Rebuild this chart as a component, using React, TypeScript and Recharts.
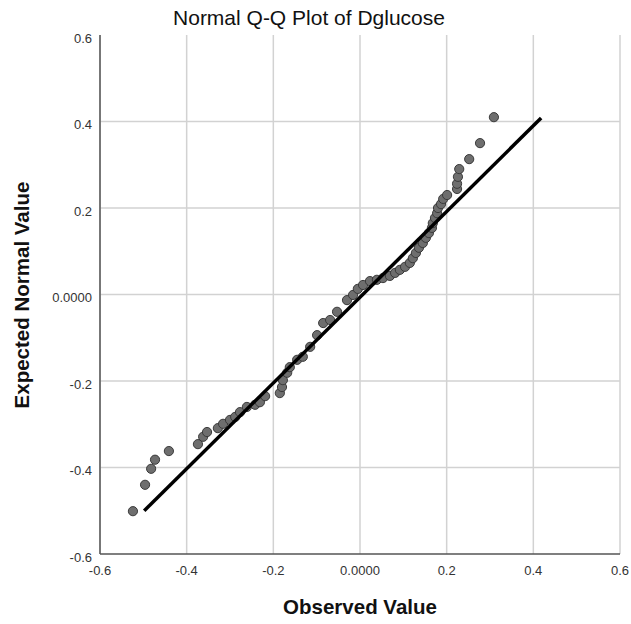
import { ScatterChart, Scatter, XAxis, YAxis, CartesianGrid, ReferenceLine } from 'recharts';

const observed = [
  -0.524, -0.496, -0.482, -0.473, -0.441, -0.374, -0.362, -0.353, -0.328, -0.316,
  -0.300, -0.288, -0.277, -0.261, -0.242, -0.231, -0.219, -0.185, -0.180, -0.178,
  -0.168, -0.162, -0.145, -0.132, -0.115, -0.099, -0.085, -0.069, -0.053, -0.030,
  -0.016, -0.005, 0.007, 0.023, 0.039, 0.053, 0.069, 0.081, 0.092, 0.104,
  0.115, 0.122, 0.129, 0.136, 0.145, 0.152, 0.159, 0.166, 0.168, 0.173,
  0.178, 0.180, 0.187, 0.192, 0.201, 0.224, 0.224, 0.226, 0.229, 0.252,
  0.277, 0.309,
];
const expected = [
  -0.501, -0.440, -0.403, -0.382, -0.362, -0.346, -0.329, -0.318, -0.309, -0.299,
  -0.290, -0.283, -0.272, -0.260, -0.255, -0.249, -0.235, -0.228, -0.214, -0.198,
  -0.181, -0.168, -0.151, -0.144, -0.121, -0.094, -0.066, -0.059, -0.040, -0.013,
  -0.001, 0.013, 0.022, 0.031, 0.034, 0.038, 0.043, 0.050, 0.057, 0.064,
  0.073, 0.084, 0.096, 0.108, 0.119, 0.131, 0.142, 0.154, 0.165, 0.177,
  0.188, 0.200, 0.209, 0.221, 0.230, 0.244, 0.256, 0.272, 0.290, 0.313,
  0.350, 0.410,
];

// reference line ends
const lineX = [-0.498, 0.418];
const lineY = [-0.5, 0.408];

const ticks = [-0.6, -0.4, -0.2, 0, 0.2, 0.4, 0.6];
const innerY = [-0.4, -0.2, 0, 0.2, 0.4];

const points = observed.map((x, i) => ({ x, y: expected[i] }));
const linePts = lineX.map((x, i) => ({ x, y: lineY[i] }));

const fmt = (v: number) => (v === 0 ? '0.0000' : String(v));
const FONT = 'Liberation Sans, Arial, sans-serif';

const Dot = (props: any) => {
  const { cx, cy } = props;
  return <circle cx={cx} cy={cy} r={4.6} fill="#6e6e6e" stroke="#3a3a3a" strokeWidth={1} />;
};

export default function App() {
  return (
    <div style={{ position: 'absolute', left: 0, top: 0, width: 631, height: 624, background: '#fff', fontFamily: FONT }}>
      <ScatterChart width={631} height={624} margin={{ top: 35, right: 11, bottom: 0, left: 0 }}>
        <CartesianGrid horizontal={false} stroke="#d2d2d2" strokeWidth={1.5} />
        {innerY.map((v) => (
          <ReferenceLine key={v} y={v} stroke="#d2d2d2" strokeWidth={1.5} />
        ))}
        <XAxis
          type="number"
          dataKey="x"
          domain={[-0.6, 0.6]}
          ticks={ticks}
          tickFormatter={fmt}
          height={70}
          tickLine={false}
          axisLine={{ stroke: '#555', strokeWidth: 1.5 }}
          tick={{ fill: '#333', fontSize: 13, fontFamily: FONT, dy: 4 }}
        />
        <YAxis
          type="number"
          dataKey="y"
          domain={[-0.6, 0.6]}
          ticks={ticks}
          tickFormatter={fmt}
          width={100}
          tickLine={false}
          axisLine={{ stroke: '#555', strokeWidth: 1.5 }}
          tick={{ fill: '#333', fontSize: 13, fontFamily: FONT, dy: 3 }}
        />
        <Scatter data={points} shape={<Dot />} isAnimationActive={false} />
        <Scatter
          data={linePts}
          line={{ stroke: '#000', strokeWidth: 3.5 }}
          shape={() => <g />}
          isAnimationActive={false}
        />
      </ScatterChart>
      <div style={{ position: 'absolute', left: 0, width: 618, top: 6, textAlign: 'center', fontSize: 21, color: '#111', whiteSpace: 'nowrap' }}>
        Normal Q-Q Plot of Dglucose
      </div>
      <div style={{ position: 'absolute', left: 100, width: 520, top: 595, textAlign: 'center', fontSize: 20.5, fontWeight: 'bold', color: '#111', whiteSpace: 'nowrap' }}>
        Observed Value
      </div>
      <div
        style={{
          position: 'absolute', left: 22, top: 295, width: 300, marginLeft: -150, marginTop: -12,
          textAlign: 'center', fontSize: 20.5, fontWeight: 'bold', color: '#111', transform: 'rotate(-90deg)',
          whiteSpace: 'nowrap',
        }}
      >
        Expected Normal Value
      </div>
    </div>
  );
}
